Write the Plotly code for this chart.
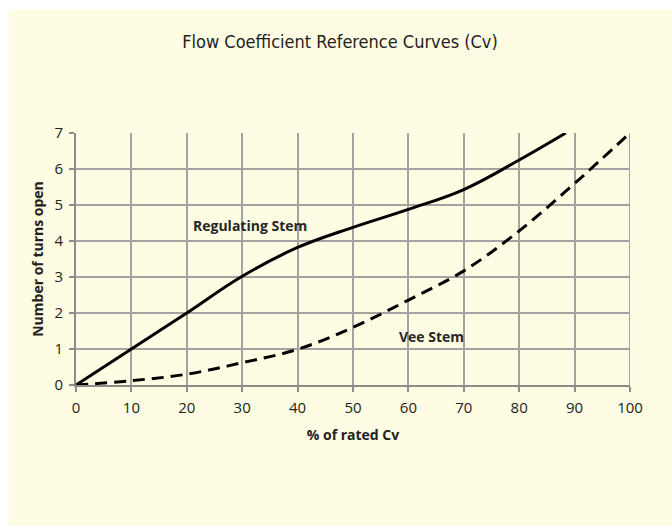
import plotly.graph_objects as go

# Flow coefficient reference curves: % of rated Cv vs number of turns open
cv_percent = [0, 10, 20, 30, 40, 50, 60, 70, 80, 88.4]
regulating_turns = [0, 1.0, 2.0, 3.02, 3.82, 4.38, 4.88, 5.43, 6.25, 7.0]

vee_percent = [0, 10, 20, 30, 40, 50, 60, 70, 80, 90, 100]
vee_turns = [0, 0.12, 0.3, 0.62, 0.99, 1.6, 2.36, 3.17, 4.28, 5.6, 7.0]

x_ticks = [0, 10, 20, 30, 40, 50, 60, 70, 80, 90, 100]
y_ticks = [0, 1, 2, 3, 4, 5, 6, 7]

PANEL = "#FEFCE3"
GRID = "#A3A3A3"
W, H = 672, 526
L, R, T, B = 76, 42, 133, 141
pw, ph = W - L - R, H - T - B

BODY = "Open Sans, Noto Sans, sans-serif"

fig = go.Figure()
fig.add_trace(go.Scatter(
    x=cv_percent, y=regulating_turns, mode="lines",
    line=dict(color="black", width=3, shape="spline", smoothing=1.1),
    hoverinfo="skip", showlegend=False,
))
fig.add_trace(go.Scatter(
    x=vee_percent, y=vee_turns, mode="lines",
    line=dict(color="black", width=3, dash="12px,7px", shape="spline", smoothing=1.0),
    hoverinfo="skip", showlegend=False,
))

label_font = dict(family=BODY, size=14, color="#262626")
fig.add_annotation(x=31.4, y=4.44, text="<b>Regulating Stem</b>", showarrow=False, font=label_font)
fig.add_annotation(x=64.2, y=1.34, text="<b>Vee Stem</b>", showarrow=False, font=label_font)

# white strip around the panel (left and top)
fig.add_shape(type="rect", xref="paper", yref="paper", layer="below",
              x0=-L / pw, x1=(9 - L) / pw, y0=-B / ph, y1=1 + T / ph,
              fillcolor="white", line=dict(width=0))
fig.add_shape(type="rect", xref="paper", yref="paper", layer="below",
              x0=-L / pw, x1=1 + R / pw, y0=1 + (T - 10) / ph, y1=1 + T / ph,
              fillcolor="white", line=dict(width=0))

axis_common = dict(
    showgrid=True, gridcolor=GRID, gridwidth=1.5,
    showline=True, linecolor="#8C8C8C", linewidth=2,
    ticks="outside", ticklen=5, tickcolor="#8C8C8C", tickwidth=1.5,
    zeroline=False, tickfont=dict(family=BODY, size=15, color="#222"),
    ticklabelstandoff=3,
)

fig.update_layout(
    width=W, height=H, autosize=False,
    margin=dict(l=L, r=R, t=T, b=B),
    paper_bgcolor=PANEL, plot_bgcolor=PANEL,
    title=dict(text="Flow Coefficient Reference Curves (Cv)", x=(340 - L) / pw, xref="paper",
               xanchor="center", y=1 - 42 / H, yanchor="middle",
               font=dict(family="DejaVu Sans Condensed, Roboto Condensed, Liberation Sans Narrow, sans-serif",
                         size=18, color="#222")),
    xaxis=dict(range=[0, 100], tickvals=x_ticks, **axis_common,
               title=dict(text="<b>% of rated Cv</b>", standoff=14,
                          font=dict(family=BODY, size=14, color="#222"))),
    yaxis=dict(range=[0, 7], tickvals=y_ticks, **axis_common,
               title=dict(text="<b>Number of turns open</b>", standoff=8,
                          font=dict(family=BODY, size=14, color="#222"))),
)
# right border line at x = 100
fig.add_shape(type="line", xref="x", yref="paper", x0=100, x1=100, y0=-5 / ph, y1=1,
              line=dict(color=GRID, width=2), layer="below")

fig.write_html("out.html")
